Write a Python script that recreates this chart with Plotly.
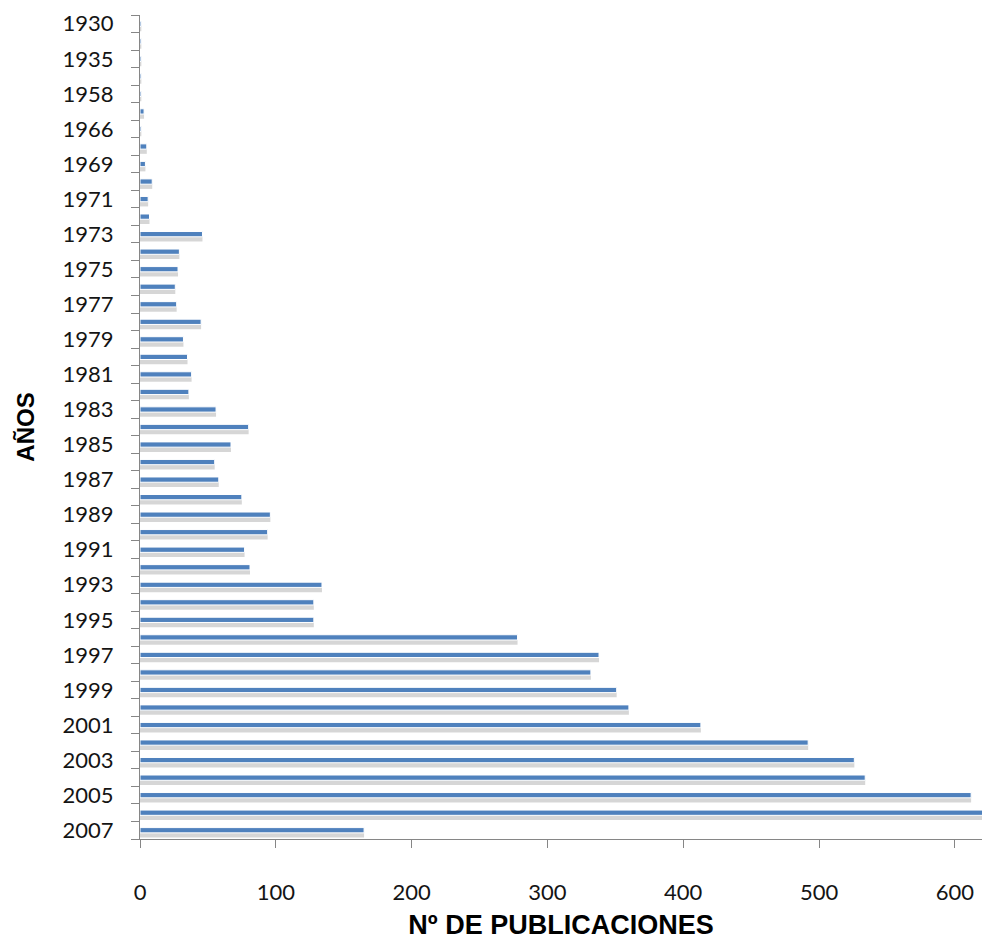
import plotly.graph_objects as go

# Publication counts per year
years = ["1930", "1933", "1935", "1945", "1958", "1964", "1966", "1968",
         "1969", "1970", "1971", "1972", "1973", "1974", "1975", "1976",
         "1977", "1978", "1979", "1980", "1981", "1982", "1983", "1984",
         "1985", "1986", "1987", "1988", "1989", "1990", "1991", "1992",
         "1993", "1994", "1995", "1996", "1997", "1998", "1999", "2000",
         "2001", "2002", "2003", "2004", "2005", "2006", "2007"]
publications = [1, 1, 1, 1, 1, 3, 1, 5,
                4, 9, 6, 7, 46, 29, 28, 26,
                27, 45, 32, 35, 38, 36, 56, 80,
                67, 55, 58, 75, 96, 94, 77, 81,
                134, 128, 128, 278, 338, 332, 351, 360,
                413, 492, 526, 534, 612, 650, 165]

# every other year is labelled on the axis
tick_text = [y if i % 2 == 0 else "" for i, y in enumerate(years)]
x_ticks = [0, 100, 200, 300, 400, 500, 600]

BAR_BLUE = "#4F81BD"
AXIS_GREY = "#868686"
TEXT = "#141414"

fig = go.Figure()

# soft drop shadow under each bar
fig.add_trace(go.Bar(
    y=years, x=publications, orientation="h",
    width=0.42, offset=0.0,
    marker=dict(color="rgba(0,0,0,0.16)", line=dict(width=0)),
    hoverinfo="skip", showlegend=False,
))
fig.add_trace(go.Bar(
    y=years, x=publications, orientation="h",
    width=0.30, offset=-0.15,
    marker=dict(color=BAR_BLUE, line=dict(color="white", width=1)),
    showlegend=False, name="Nº de publicaciones",
))

fig.update_layout(
    width=982, height=940,
    margin=dict(l=140, r=0, t=15, b=101),
    paper_bgcolor="white", plot_bgcolor="white",
    barmode="overlay",
)

fig.update_yaxes(
    type="category", categoryorder="array", categoryarray=years,
    autorange="reversed", automargin=False,
    tickmode="array", tickvals=years, ticktext=tick_text,
    tickson="boundaries",
    ticks="outside", ticklen=8, tickcolor=AXIS_GREY, tickwidth=1,
    showline=True, linecolor=AXIS_GREY, linewidth=1,
    showgrid=False, zeroline=False,
    tickfont=dict(family="Lato", size=22, color=TEXT),
    ticklabelstandoff=21,
    title=dict(text="<b>AÑOS</b>", standoff=21,
               font=dict(family="Liberation Sans", size=24, color="black")),
)

fig.update_xaxes(
    range=[0, 620], automargin=False,
    tickmode="array", tickvals=x_ticks,
    ticks="outside", ticklen=8, tickcolor=AXIS_GREY, tickwidth=1,
    showline=True, linecolor=AXIS_GREY, linewidth=1,
    showgrid=False, zeroline=False,
    tickfont=dict(family="Lato", size=22, color=TEXT),
    ticklabelstandoff=26,
    title=dict(text="<b>Nº DE PUBLICACIONES</b>", standoff=14,
               font=dict(family="Liberation Sans", size=27, color="black")),
)

fig.write_html("out.html")
